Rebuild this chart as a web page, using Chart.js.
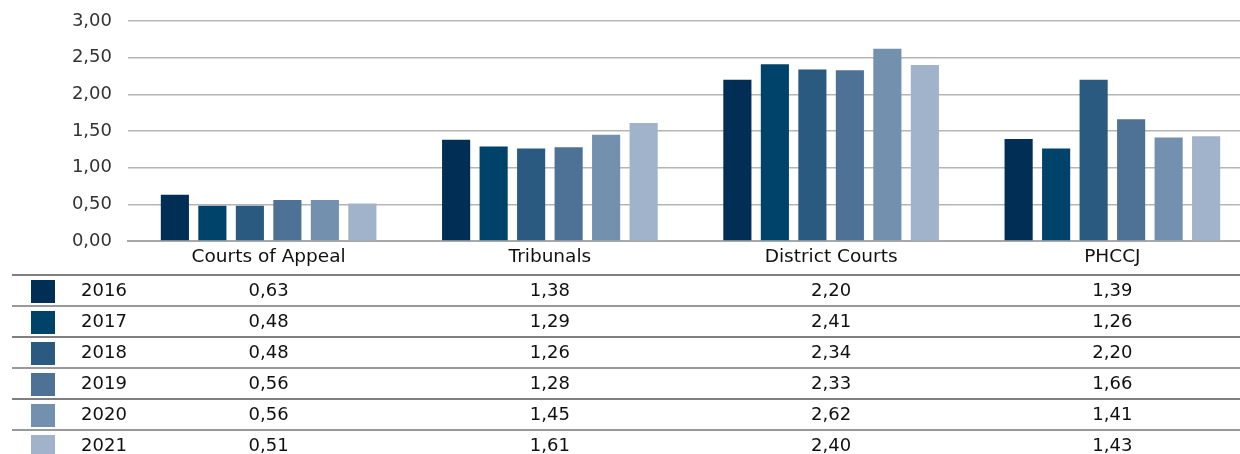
<!DOCTYPE html>
<html>
<head>
<meta charset="utf-8">
<script src="https://cdn.jsdelivr.net/npm/chart.js@4.4.1/dist/chart.umd.min.js"></script>
<style>
  html, body { margin: 0; padding: 0; background: #ffffff; overflow: hidden; }
  #wrap { position: relative; width: 1253px; height: 454px; }
</style>
</head>
<body>
<div id="wrap"><canvas id="c"></canvas></div>
<script>
const categories = ['Courts of Appeal', 'Tribunals', 'District Courts', 'PHCCJ'];
const years = ['2016', '2017', '2018', '2019', '2020', '2021'];
const v2016 = [0.63, 1.38, 2.20, 1.39];
const v2017 = [0.48, 1.29, 2.41, 1.26];
const v2018 = [0.48, 1.26, 2.34, 2.20];
const v2019 = [0.56, 1.28, 2.33, 1.66];
const v2020 = [0.56, 1.45, 2.62, 1.41];
const v2021 = [0.51, 1.61, 2.40, 1.43];
const seriesValues = [v2016, v2017, v2018, v2019, v2020, v2021];
const yTicks = [0, 0.5, 1, 1.5, 2, 2.5, 3];

const colors = ['#012e54', '#00436a', '#2b5a80', '#4d7296', '#7390af', '#a1b2cb'];
const FONT = '"DejaVu Sans", sans-serif';
const fmt = v => v.toFixed(2).replace('.', ',');

const datasets = years.map((y, i) => ({
  label: y,
  data: seriesValues[i],
  backgroundColor: colors[i],
  borderWidth: 0,
  categoryPercentage: 0.8,
  barPercentage: 0.75
}));

const tablePlugin = {
  id: 'dataTable',
  afterDraw(chart) {
    const ctx = chart.ctx;
    const xs = chart.scales.x;
    const rowTop = 275, rowH = 31;
    ctx.save();
    ctx.lineWidth = 1.5;
    for (let r = 0; r < years.length; r++) {
      const yLine = rowTop + r * rowH;
      ctx.strokeStyle = r % 2 === 0 ? '#555555' : '#777777';
      ctx.beginPath();
      ctx.moveTo(12, yLine);
      ctx.lineTo(chart.width, yLine);
      ctx.stroke();
      const cy = yLine + rowH / 2 + 1;
      ctx.fillStyle = colors[r];
      ctx.fillRect(31, cy - 11.5, 24, 23);
      ctx.fillStyle = '#111111';
      ctx.font = '18px ' + FONT;
      ctx.textAlign = 'center';
      ctx.textBaseline = 'middle';
      ctx.fillText(years[r], 104, cy);
      seriesValues[r].forEach((v, ci) => {
        ctx.fillText(fmt(v), xs.getPixelForValue(ci), cy);
      });
    }
    ctx.restore();
  }
};

new Chart(document.getElementById('c'), {
  type: 'bar',
  data: { labels: categories, datasets },
  options: {
    responsive: true,
    maintainAspectRatio: false,
    animation: false,
    layout: { padding: { top: 21, left: 0, right: 0, bottom: 0 } },
    plugins: { legend: { display: false }, tooltip: { enabled: false }, title: { display: false } },
    scales: {
      x: {
        grid: { display: false, drawTicks: false },
        border: { display: true, color: '#a8a8a8', width: 2 },
        ticks: { color: '#111111', font: { family: FONT, size: 18.5 }, padding: 5, maxRotation: 0 },
        afterFit(s) { s.height = 454 - 241; s.paddingLeft = 0; s.paddingRight = 0; }
      },
      y: {
        min: 0, max: 3,
        afterBuildTicks(s) { s.ticks = yTicks.map(v => ({ value: v })); },
        grid: { color: '#b5b5b5', lineWidth: 1.5, drawTicks: false },
        border: { display: false },
        ticks: { color: '#333333', font: { family: FONT, size: 18 }, padding: 16, callback: v => fmt(v) },
        afterFit(s) { s.width = 128; s.paddingTop = 0; s.paddingBottom = 0; }
      }
    }
  },
  plugins: [tablePlugin]
});
</script>
</body>
</html>
